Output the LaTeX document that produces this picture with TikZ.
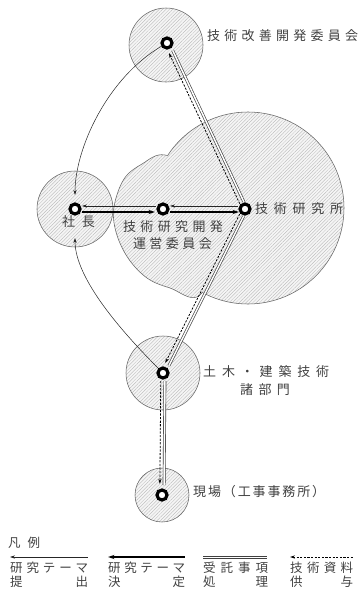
\documentclass[tikz,border=0pt]{standalone}
\usepackage{fontspec}
\newfontfamily\jp{Noto Sans CJK JP}
\usetikzlibrary{arrows.meta,patterns.meta,calc}
\pgfdeclarelayer{circ}
\pgfdeclarelayer{conn}
\pgfsetlayers{circ,conn,main}
\def\sprd#1#2{\makebox[#1]{\sprdA#2\relax}}
\def\sprdA#1{#1\sprdB}
\def\sprdB#1{\ifx#1\relax\else\hfill#1\expandafter\sprdB\fi}
\begin{document}
\begin{tikzpicture}[x=1pt,y=-1pt,
  ring/.style={circle,draw=black,line width=3.2pt,fill=white,minimum size=10pt,inner sep=0pt},
  lbl/.style={inner sep=0pt,font=\jp\fontsize{13}{15}\selectfont,text=black!75},
  leg/.style={inner sep=0pt,font=\jp\fontsize{12.5}{14}\selectfont,text=black!75,anchor=west},
  area/.style={fill=black!4,postaction={pattern={Lines[angle=45,distance=2.4pt,line width=0.3pt]},pattern color=black!30}},
  rim/.style={draw=black!60,line width=0.55pt},
  tip/.tip={Stealth[length=5pt,width=3.2pt]},
  btip/.tip={Stealth[length=6.5pt,width=4.2pt]},
  sub/.style={draw=black!85,line width=0.5pt},
  dec/.style={draw=black,line width=1.3pt},
  entr/.style={draw=black!75,double=white,double distance=1.5pt,line width=0.65pt},
  supl/.style={draw=black,line width=0.8pt,dash pattern=on 2.2pt off 1.4pt},
]
\useasboundingbox (0,0) rectangle (362,603);

% nodes
\node[ring] (top) at (167,43) {};
\node[ring] (shacho) at (75,209) {};
\node[ring] (unei) at (163,209) {};
\node[ring] (kenkyu) at (245,209) {};
\node[ring] (doboku) at (163,373) {};
\node[ring] (genba) at (162,495) {};

% hatched areas
\begin{pgfonlayer}{circ}
\fill[area] (166,45) circle (37pt);
\fill[area] (75,209) circle (38pt);
\fill[area] (163,373) circle (37pt);
\fill[area] (162,495) circle (27pt);
\fill[area] (248,208) circle (96pt);
\begin{scope}[smooth cycle,tension=0.6]
\fill[area] plot coordinates {(114,207) (124,179) (142,164) (165,155) (200,175) (220,240) (200,295) (170,288) (147,278) (128,258) (116,232)};
\end{scope}
\draw[rim] (166,45) circle (37pt);
\draw[rim] (75,209) circle (38pt);
\draw[rim] (163,373) circle (37pt);
\draw[rim] (162,495) circle (27pt);
\begin{scope}[smooth cycle,tension=0.6,even odd rule]
\clip (-10,-10) rectangle (380,620) plot coordinates {(114,207) (124,179) (142,164) (165,155) (200,175) (220,240) (200,295) (170,288) (147,278) (128,258) (116,232)};
\draw[rim] (248,208) circle (96pt);
\end{scope}
\begin{scope}[smooth cycle,tension=0.6,even odd rule]
\clip (-10,-10) rectangle (380,620) (248,208) circle (96pt);
\draw[rim] plot coordinates {(114,207) (124,179) (142,164) (165,155) (200,175) (220,240) (200,295) (170,288) (147,278) (128,258) (116,232)};
\end{scope}
\end{pgfonlayer}

% connectors
\begin{pgfonlayer}{conn}
\draw[sub,-tip,shorten <=6pt,shorten >=14pt] (top.center) .. controls +(-60,35) and +(0,-60) .. (shacho.center);
\draw[sub,-tip,shorten <=6pt,shorten >=29pt] (doboku.center) .. controls +(-40,-40) and +(0,70) .. (shacho.center);
\draw[sub,tip-,shorten <=7pt,shorten >=7pt] ($(shacho.center)+(0,-3)$) -- ($(unei.center)+(0,-3)$);
\draw[dec,-btip,shorten <=7pt,shorten >=8pt] ($(shacho.center)+(0,3)$) -- ($(unei.center)+(0,3)$);
\draw[sub,tip-,shorten <=7pt,shorten >=7pt] ($(unei.center)+(0,-3)$) -- ($(kenkyu.center)+(0,-3)$);
\draw[dec,-btip,shorten <=7pt,shorten >=6pt] ($(unei.center)+(0,3)$) -- ($(kenkyu.center)+(0,3)$);
\draw[supl,-tip,shorten <=7pt,shorten >=10pt] ($(kenkyu.center)+(-2.26,1.06)$) -- ($(top.center)+(-2.26,1.06)$);
\draw[entr,shorten <=7pt,shorten >=9pt] ($(kenkyu.center)+(1.81,-0.85)$) -- ($(top.center)+(1.81,-0.85)$);
\draw[supl,-tip,shorten <=7pt,shorten >=10pt] ($(kenkyu.center)+(-2.24,-1.12)$) -- ($(doboku.center)+(-2.24,-1.12)$);
\draw[entr,shorten <=7pt,shorten >=9pt] ($(kenkyu.center)+(1.79,0.89)$) -- ($(doboku.center)+(1.79,0.89)$);
\draw[supl,-tip,shorten <=8pt,shorten >=11pt] ($(doboku.center)+(-2.2,0)$) -- ($(genba.center)+(-2.2,0)$);
\draw[entr,shorten <=8pt,shorten >=10pt] ($(doboku.center)+(2,0)$) -- ($(genba.center)+(2,0)$);
\end{pgfonlayer}

% labels
\node[lbl,anchor=west] (ltop) at (207,36) {\sprd{151pt}{技術改善開発委員会}};
\node[lbl,anchor=west] (lkenkyu) at (255,209) {\sprd{88pt}{技術研究所}};
\node[lbl] (lshacho) at (78.5,222) {\sprd{33pt}{社長}};
\node[lbl] (lunei1) at (173,227) {\sprd{100pt}{技術研究開発}};
\node[lbl] (lunei2) at (172.5,244) {\sprd{79pt}{運営委員会}};
\node[lbl,anchor=west] (ldob1) at (203,372) {\sprd{126pt}{土木・建築技術}};
\node[lbl] (ldob2) at (265,390) {\sprd{50pt}{諸部門}};
\node[lbl,anchor=west] (lgenba) at (193,492) {\sprd{132pt}{現場（工事事務所）}};

% legend
\node[leg] (lhead) at (8,543) {\sprd{32pt}{凡例}};
\coordinate (a1) at (10,557); \coordinate (b1) at (88,557);
\coordinate (a2) at (108,557); \coordinate (b2) at (185,557);
\coordinate (a3) at (203,557.5); \coordinate (b3) at (267,557.5);
\coordinate (a4) at (290,557); \coordinate (b4) at (353,557);
\draw[sub,tip-] (a1) -- (b1);
\draw[dec,btip-] (a2) -- (b2);
\draw[entr] (a3) -- (b3);
\draw[supl,tip-] (a4) -- (b4);
\node[leg] (t1a) at (10,568) {\sprd{78pt}{研究テーマ}};
\node[leg] (t1b) at (10,582) {\sprd{78pt}{提出}};
\node[leg] (t2a) at (108,568) {\sprd{77pt}{研究テーマ}};
\node[leg] (t2b) at (108,582) {\sprd{77pt}{決定}};
\node[leg] (t3a) at (203,568) {\sprd{65pt}{受託事項}};
\node[leg] (t3b) at (203,582) {\sprd{65pt}{処理}};
\node[leg] (t4a) at (290,568) {\sprd{63pt}{技術資料}};
\node[leg] (t4b) at (290,582) {\sprd{63pt}{供与}};
\end{tikzpicture}
\end{document}
